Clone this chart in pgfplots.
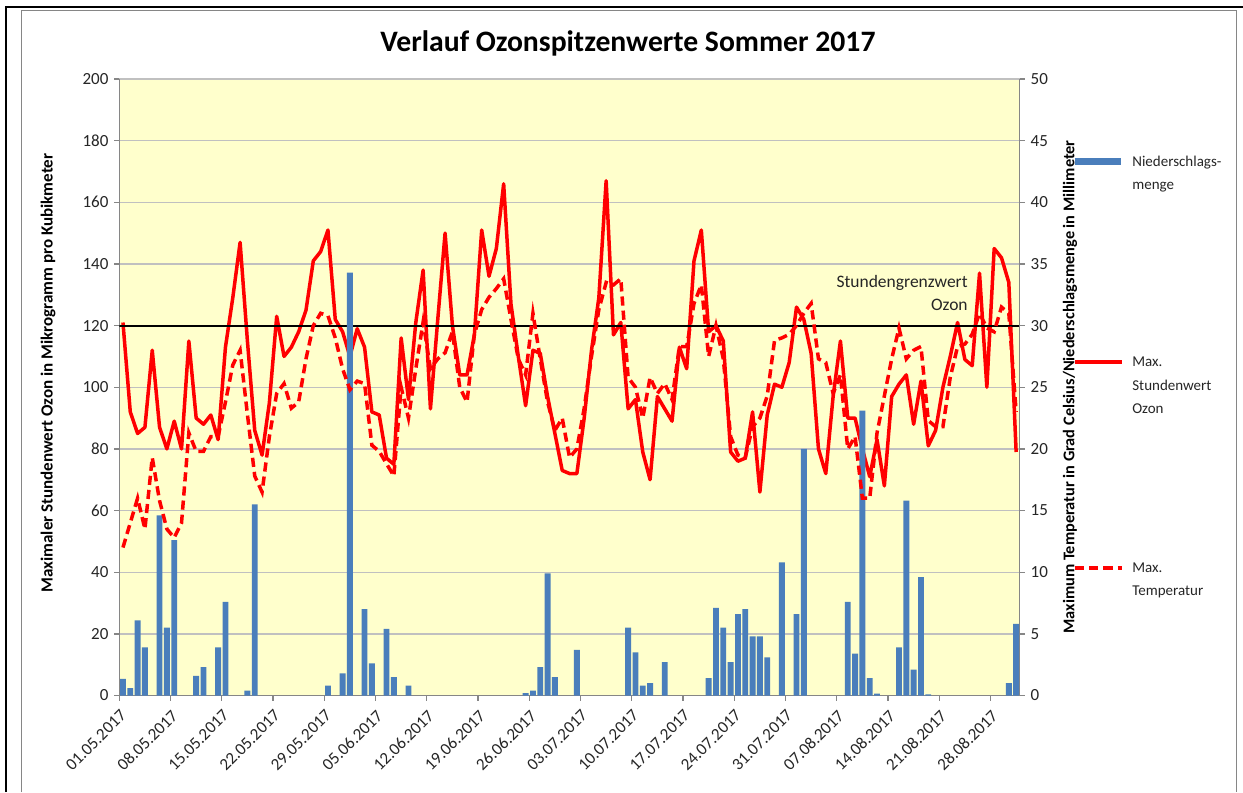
\documentclass[border=0pt]{standalone}
\usepackage{pgfplots}
\usepackage{pgfplotstable}
\pgfplotsset{compat=1.18}
\usepackage{fontspec}
\setmainfont{Carlito}
\definecolor{barblue}{HTML}{4A7EBB}
\definecolor{bgyellow}{HTML}{FFFFCC}
\definecolor{gridgray}{HTML}{C0C0C0}
\definecolor{axgray}{HTML}{868686}
\definecolor{txt}{HTML}{262626}
\newcommand\tickfont{\fontsize{10.2pt}{12pt}\selectfont}
\newcommand\legfont{\fontsize{9pt}{12pt}\selectfont}
\newcommand\annfont{\fontsize{10.5pt}{12pt}\selectfont}
\newcommand\labfont{\bfseries\fontsize{9.8pt}{12pt}\selectfont}
\newcommand\lablfont{\bfseries\fontsize{10.2pt}{12pt}\selectfont}
\newcommand\titlefont{\bfseries\fontsize{17.8pt}{20pt}\selectfont}

% day index 0 = 01.05.2017 ... 122 = 31.08.2017
\pgfplotstableread{
d o
0 121
1 92
2 85
3 87
4 112
5 87
6 80
7 89
8 80
9 115
10 90
11 88
12 91
13 83
14 113
15 129
16 147
17 115
18 86
19 78
20 95
21 123
22 110
23 113
24 118
25 125
26 141
27 144
28 151
29 122
30 118
31 110
32 119
33 113
34 92
35 91
36 77
37 75
38 116
39 96
40 121
41 138
42 93
43 122
44 150
45 120
46 104
47 104
48 117
49 151
50 136
51 145
52 166
53 127
54 110
55 94
56 112
57 111
58 97
59 85
60 73
61 72
62 72
63 90
64 112
65 129
66 167
67 117
68 121
69 93
70 96
71 79
72 70
73 97
74 93
75 89
76 113
77 106
78 141
79 151
80 118
81 120
82 115
83 79
84 76
85 77
86 92
87 66
88 91
89 101
90 100
91 108
92 126
93 122
94 111
95 80
96 72
97 97
98 115
99 90
100 90
101 80
102 71
103 83
104 68
105 97
106 101
107 104
108 88
109 102
110 81
111 86
112 100
113 110
114 121
115 109
116 107
117 137
118 100
119 145
120 142
121 134
122 79
}\ozone

\pgfplotstableread{
d t
0 12.0
1 14.0
2 16.0
3 13.5
4 19.3
5 15.8
6 13.5
7 12.8
8 14.0
9 21.3
10 19.8
11 19.8
12 21.0
13 21.0
14 23.8
15 26.8
16 28.0
17 22.8
18 17.8
19 16.5
20 21.0
21 24.5
22 25.3
23 23.3
24 23.8
25 27.3
26 30.0
27 31.0
28 30.8
29 29.0
30 26.5
31 24.8
32 25.5
33 25.3
34 20.3
35 19.8
36 18.8
37 17.8
38 25.0
39 22.5
40 26.5
41 30.3
42 26.5
43 27.3
44 27.8
45 29.5
46 25.0
47 23.8
48 29.3
49 31.3
50 32.3
51 33.0
52 33.8
53 30.5
54 27.3
55 26.0
56 31.0
57 27.3
58 23.8
59 21.5
60 22.5
61 19.3
62 20.0
63 23.3
64 27.5
65 31.3
66 33.5
67 33.3
68 33.8
69 25.8
70 25.0
71 22.5
72 25.8
73 24.5
74 25.3
75 24.0
76 28.3
77 28.3
78 31.8
79 33.3
80 27.5
81 30.0
82 27.3
83 21.0
84 19.5
85 19.3
86 21.8
87 22.5
88 24.3
89 28.8
90 29.0
91 29.3
92 30.0
93 31.0
94 31.8
95 27.3
96 27.0
97 24.5
98 26.0
99 20.0
100 21.0
101 16.0
102 16.0
103 21.3
104 24.3
105 27.3
106 29.8
107 27.3
108 28.0
109 28.3
110 22.3
111 21.8
112 21.8
113 25.8
114 28.3
115 28.5
116 29.3
117 31.0
118 29.8
119 29.5
120 31.5
121 31.0
122 23.0
}\temp

\pgfplotstableread{
d r
0 1.35
1 0.6
2 6.1
3 3.9
5 14.6
6 5.5
7 12.6
10 1.6
11 2.3
13 3.9
14 7.6
17 0.4
18 15.5
28 0.8
30 1.8
31 34.3
33 7.0
34 2.6
36 5.4
37 1.5
39 0.8
55 0.2
56 0.4
57 2.3
58 9.9
59 1.5
62 3.7
69 5.5
70 3.5
71 0.8
72 1.0
74 2.7
80 1.4
81 7.1
82 5.5
83 2.7
84 6.6
85 7.0
86 4.8
87 4.8
88 3.1
90 10.8
92 6.6
93 20.0
99 7.6
100 3.4
101 23.1
102 1.4
103 0.15
106 3.9
107 15.8
108 2.1
109 9.6
110 0.1
121 1.0
122 5.8
}\rain

\begin{document}
\begin{tikzpicture}[x=0.6pt,y=0.6pt]
\path[use as bounding box, fill=white] (0,0) rectangle (1243,792);
\draw[black, line width=1.6pt] (6,0) -- (6,785) -- (1243,785);
\draw[axgray, line width=0.7pt] (21.5,0) -- (21.5,781.5) -- (1236.5,781.5) -- (1236.5,0);

\begin{axis}[
  scale only axis, width=540.3pt, height=369.9pt,
  at={(71.58pt,57.9pt)}, anchor=south west,
  xmin=-0.5, xmax=122.5, ymin=0, ymax=200,
  axis background/.style={fill=bgyellow},
  separate axis lines, axis x line*=bottom, axis y line*=left,
  axis line style={draw=axgray, line width=0.8pt, -},
  ytick={0,20,...,200}, ymajorgrids,
  grid style={gridgray, line width=0.8pt},
  xtick={-0.5,6.5,13.5,20.5,27.5,34.5,41.5,48.5,55.5,62.5,69.5,76.5,83.5,90.5,97.5,104.5,111.5,118.5},
  xticklabels={01.05.2017,08.05.2017,15.05.2017,22.05.2017,29.05.2017,05.06.2017,12.06.2017,19.06.2017,26.06.2017,03.07.2017,10.07.2017,17.07.2017,24.07.2017,31.07.2017,07.08.2017,14.08.2017,21.08.2017,28.08.2017},
  tick align=outside, major tick length=3pt,
  tick style={axgray, line width=0.8pt},
  xticklabel style={rotate=45, anchor=north east, font=\tickfont, text=txt},
  yticklabel style={font=\tickfont, text=txt},
  /pgf/number format/assume math mode=true,
]
\addplot[red, line width=2.1pt, line join=round, no marks] table[x=d, y=o] {\ozone};
\addplot[black, line width=1.2pt, no marks] coordinates {(-0.5,120) (122.5,120)};
\end{axis}

\begin{axis}[
  scale only axis, width=540.3pt, height=369.9pt,
  at={(71.58pt,57.9pt)}, anchor=south west,
  xmin=-0.5, xmax=122.5, ymin=0, ymax=50,
  axis x line=none, axis y line*=right,
  axis line style={draw=axgray, line width=0.8pt, -},
  ytick={0,5,...,50},
  tick align=outside, major tick length=3pt,
  tick style={axgray, line width=0.8pt},
  yticklabel style={font=\tickfont, text=txt},
  /pgf/number format/assume math mode=true,
]
\addplot[ybar, bar width=0.8, fill=barblue, draw=none] table[x=d, y=r] {\rain};
\addplot[red, line width=2.1pt, dash pattern=on 5.5pt off 3pt, no marks] table[x=d, y=t] {\temp};
\end{axis}

% title and axis titles
\node[font=\titlefont, anchor=base] at (628,740) {Verlauf Ozonspitzenwerte Sommer 2017};
\node[font=\lablfont, rotate=90, text=black] at (48,419) {Maximaler Stundenwert Ozon in Mikrogramm pro Kubikmeter};
\node[font=\labfont, rotate=90, text=black] at (1070,405) {Maximum Temperatur in Grad Celsius/Niederschlagsmenge in Millimeter};

% annotation
\node[font=\annfont, text=txt, anchor=base east, inner sep=0pt] at (968,504) {Stundengrenzwert};
\node[font=\annfont, text=txt, anchor=base east, inner sep=0pt] at (968,481) {Ozon};

% legend
\fill[barblue] (1075,626.5) rectangle (1121,633.5);
\node[font=\legfont, text=txt, anchor=base west, inner sep=0pt] at (1132,625) {Niederschlags-};
\node[font=\legfont, text=txt, anchor=base west, inner sep=0pt] at (1132,602) {menge};
\draw[red, line width=2.1pt] (1075,430) -- (1122,430);
\node[font=\legfont, text=txt, anchor=base west, inner sep=0pt] at (1132,425) {Max.};
\node[font=\legfont, text=txt, anchor=base west, inner sep=0pt] at (1132,401) {Stundenwert};
\node[font=\legfont, text=txt, anchor=base west, inner sep=0pt] at (1132,378) {Ozon};
\draw[red, line width=2.1pt, dash pattern=on 5.5pt off 3pt] (1075,224) -- (1122,224);
\node[font=\legfont, text=txt, anchor=base west, inner sep=0pt] at (1132,219) {Max.};
\node[font=\legfont, text=txt, anchor=base west, inner sep=0pt] at (1132,196) {Temperatur};
\end{tikzpicture}
\end{document}
